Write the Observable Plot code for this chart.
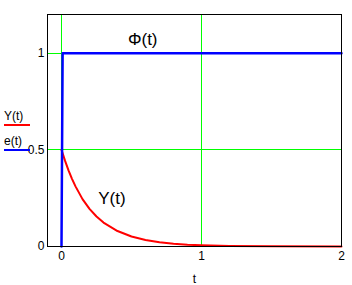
<!DOCTYPE html>
<html>
<head>
<meta charset="utf-8">
<script src="https://cdn.jsdelivr.net/npm/d3@7"></script>
<script src="https://cdn.jsdelivr.net/npm/@observablehq/plot@0.6"></script>
<style>
  html, body { margin: 0; padding: 0; background: #fff; }
  #wrap { position: relative; width: 352px; height: 285px; font-family: "Liberation Sans", Arial, sans-serif; }
  .leg { position: absolute; left: 4px; width: 26px; font-size: 12px; line-height: 12px; color: #000; }
  .leg .sw { height: 2px; margin-top: 2px; }
</style>
</head>
<body>
<div id="wrap"></div>
<script>
// Data
const phiT = [0, 0.008, 2];
const phiV = [0, 1, 1];
const yT = [0, 0.025, 0.05, 0.075, 0.1, 0.15, 0.2, 0.25, 0.3, 0.4, 0.5, 0.6, 0.7, 0.8, 0.9, 1.0, 1.2, 1.5, 2.0];
const yV = [0.5, 0.444, 0.394, 0.35, 0.311, 0.245, 0.195, 0.155, 0.124, 0.08, 0.052, 0.034, 0.022, 0.014, 0.009, 0.006, 0.003, 0.001, 0];
const gridX = [0, 1];
const gridY = [0.5, 1];
const xTicks = [0, 1, 2];
const yTicks = [0, 0.5, 1];
const curveLabels = ["Φ(t)", "Y(t)"];
const curveLabelT = [0.58, 0.36];
const curveLabelV = [1.07, 0.25];
const legendLabels = ["Y(t)", "e(t)"];
const legendColors = ["#ff0000", "#0000ff"];

const phi = phiT.map((t, i) => ({t, v: phiV[i]}));
const ys = yT.map((t, i) => ({t, v: yV[i]}));
const labels = curveLabels.map((text, i) => ({text, t: curveLabelT[i], v: curveLabelV[i]}));

const chart = Plot.plot({
  width: 352,
  height: 285,
  marginLeft: 47,
  marginRight: 11,
  marginTop: 14,
  marginBottom: 39,
  style: {fontFamily: "'Liberation Sans', Arial, sans-serif", fontSize: "12px", background: "#fff", color: "#000"},
  x: {domain: [-0.1, 2], ticks: xTicks, tickSize: 0, tickPadding: 5, tickFormat: d => String(d),
      label: "t", labelAnchor: "center", labelArrow: "none", labelOffset: 36},
  y: {domain: [0, 1.2], ticks: yTicks, tickSize: 0, tickPadding: 3, tickFormat: d => String(d), label: null},
  marks: [
    Plot.ruleX(gridX, {stroke: "#00ff00", strokeWidth: 1, strokeOpacity: 1, shapeRendering: "crispEdges"}),
    Plot.ruleY(gridY, {stroke: "#00ff00", strokeWidth: 1, strokeOpacity: 1, shapeRendering: "crispEdges"}),
    Plot.line(ys, {x: "t", y: "v", stroke: "#ff0000", strokeWidth: 2}),
    Plot.line(phi, {x: "t", y: "v", stroke: "#0000ff", strokeWidth: 2.5}),
    Plot.frame({stroke: "#000", strokeWidth: 1, shapeRendering: "crispEdges"}),
    Plot.text(labels, {x: "t", y: "v", text: "text", fontSize: 17, fill: "#000"})
  ]
});

const wrap = document.getElementById("wrap");
wrap.appendChild(chart);
const tops = [110, 135];
legendLabels.forEach((lab, i) => {
  const d = document.createElement("div");
  d.className = "leg";
  d.style.top = tops[i] + "px";
  d.innerHTML = `<div>${lab}</div><div class="sw" style="background:${legendColors[i]}"></div>`;
  wrap.appendChild(d);
});
</script>
</body>
</html>
